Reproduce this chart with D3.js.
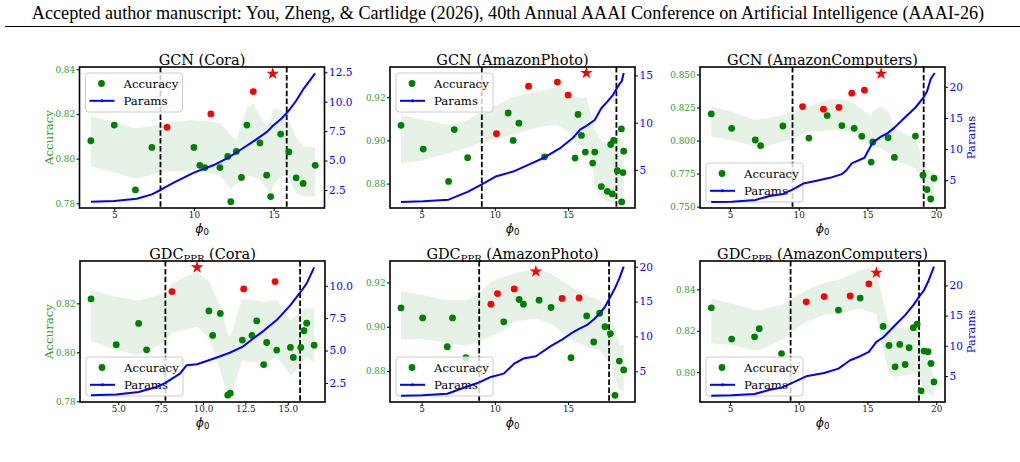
<!DOCTYPE html>
<html>
<head>
<meta charset="utf-8">
<script src="https://cdn.jsdelivr.net/npm/d3@7"></script>
<style>
body { margin: 0; background: #fff; }
svg { display: block; font-family: "DejaVu Serif", serif; }
</style>
</head>
<body>
<div id="chart"></div>
<script>
// ---- GCN (Cora) ----
var gcnCoraAcc = [[3.53,0.808],[5.0,0.815],[6.33,0.786],[7.36,0.805],[10.0,0.805],[10.37,0.797],[10.68,0.796],[11.63,0.796],[12.12,0.801],[12.31,0.7807],[12.66,0.8032],[12.98,0.7916],[13.32,0.815],[14.14,0.807],[14.56,0.7926],[14.81,0.783],[15.44,0.811],[15.95,0.803],[16.41,0.7914],[16.85,0.7889],[17.61,0.797]];
var gcnCoraTop = [[8.31,0.814],[11.06,0.820],[13.72,0.830]];
var gcnCoraBest = [14.94,0.838];
var gcnCoraParams = [[3.53,1.51],[5.0,1.57],[6.41,1.76],[7.36,2.13],[7.9,2.5],[8.73,3.12],[10.0,3.97],[11.25,4.62],[12.1,5.2],[12.9,5.9],[13.8,6.7],[14.6,7.46],[14.94,7.94],[15.46,8.53],[15.9,9.16],[16.4,10.06],[16.9,11.14],[17.6,12.4]];
var gcnCoraBand = [[3.53,0.7967,0.8191],[6.33,0.7911,0.8135],[7.36,0.7926,0.8146],[7.9,0.7941,0.8158],[10.0,0.7946,0.8173],[11.06,0.7934,0.8165],[11.63,0.7926,0.8158],[12.31,0.7866,0.8106],[12.66,0.7889,0.8083],[12.98,0.7904,0.815],[13.32,0.7926,0.8225],[13.72,0.7919,0.8248],[14.14,0.7904,0.8188],[14.56,0.7866,0.815],[14.81,0.7829,0.8158],[14.94,0.7874,0.8221],[15.44,0.7926,0.8221],[15.95,0.7919,0.8173],[16.41,0.7844,0.8098],[16.85,0.7832,0.8053],[17.61,0.7829,0.805]];
var gcnCoraCuts = [7.9, 15.82];

// ---- GCN (AmazonPhoto) ----
var gcnPhotoAcc = [[3.59,0.907],[5.11,0.896],[6.84,0.881],[7.23,0.905],[8.14,0.892],[10.91,0.9127],[11.25,0.900],[11.64,0.908],[13.39,0.8924],[15.48,0.8918],[15.68,0.912],[15.91,0.9023],[16.18,0.8946],[16.68,0.8895],[16.82,0.8946],[17.27,0.8786],[17.68,0.8764],[17.91,0.8981],[18.02,0.8752],[18.11,0.900],[18.36,0.886],[18.64,0.9053],[18.66,0.8715],[18.75,0.8851],[18.8,0.895]];
var gcnPhotoTop = [[10.11,0.9031],[12.3,0.9251],[14.27,0.927],[15.0,0.921]];
var gcnPhotoBest = [16.25,0.9312];
var gcnPhotoParams = [[3.59,1.6],[5.11,1.67],[6.84,1.84],[8.14,2.66],[9.11,3.47],[10.11,4.33],[11.25,4.82],[12.39,5.6],[13.39,6.31],[14.43,7.27],[15.34,8.4],[15.84,9.29],[16.25,9.65],[16.82,10.28],[17.27,11.52],[17.68,12.23],[18.07,12.94],[18.3,13.55],[18.52,14.11],[18.66,14.36],[18.8,15.25]];
var gcnPhotoBand = [[3.59,0.8893,0.9118],[5.11,0.8909,0.9095],[6.84,0.894,0.9071],[8.14,0.8967,0.9095],[9.11,0.8994,0.9133],[10.11,0.9009,0.9164],[11.25,0.9025,0.92],[12.3,0.9048,0.9219],[13.39,0.9067,0.9234],[14.27,0.9071,0.9247],[15.0,0.904,0.9222],[15.48,0.8994,0.9203],[15.91,0.8974,0.9195],[16.25,0.8971,0.92],[16.68,0.8878,0.9095],[16.82,0.8784,0.9048],[17.27,0.8738,0.9002],[17.68,0.8715,0.8978],[18.11,0.8707,0.9009],[18.64,0.8707,0.9002],[18.8,0.8722,0.9009]];
var gcnPhotoCuts = [9.11, 18.3];

// ---- GCN (AmazonComputers) ----
var gcnCompAcc = [[3.64,0.8201],[5.12,0.8092],[6.84,0.8004],[7.23,0.7961],[8.85,0.811],[10.74,0.8019],[12.07,0.8189],[13.14,0.8113],[14.03,0.8092],[14.59,0.8032],[15.27,0.7837],[15.39,0.7989],[16.5,0.8022],[16.96,0.7872],[18.49,0.8034],[19.04,0.7738],[19.33,0.7629],[19.6,0.7558],[19.84,0.7715]];
var gcnCompTop = [[10.28,0.8257],[11.8,0.8237],[12.92,0.825],[13.86,0.8358],[14.78,0.8381]];
var gcnCompBest = [15.99,0.8505];
var gcnCompParams = [[3.64,1.51],[5.12,1.56],[6.84,1.83],[7.9,2.47],[8.85,2.8],[9.55,3.5],[10.33,4.46],[11.3,4.9],[12.26,5.38],[13.14,5.97],[13.47,6.6],[13.86,7.7],[14.78,8.6],[15.39,11.08],[15.99,12.0],[16.5,12.6],[16.96,13.44],[17.59,14.78],[18.49,16.67],[19.04,18.17],[19.33,19.25],[19.6,21.24],[19.89,22.2]];
var gcnCompBand = [[3.64,0.8029,0.8257],[5.12,0.8004,0.8219],[6.84,0.7953,0.8156],[7.23,0.7948,0.8161],[8.85,0.7991,0.8194],[9.55,0.8016,0.8219],[10.74,0.8067,0.8257],[12.07,0.8075,0.8308],[13.14,0.808,0.8313],[14.03,0.8054,0.8282],[14.78,0.8004,0.8219],[15.27,0.7953,0.8194],[15.39,0.7953,0.8219],[15.99,0.7941,0.8262],[16.5,0.7903,0.8219],[16.96,0.7852,0.8092],[18.49,0.7789,0.8016],[19.04,0.7687,0.7852],[19.33,0.7573,0.7789],[19.6,0.7548,0.7776],[19.84,0.7573,0.7763]];
var gcnCompCuts = [9.55, 19.09];

// ---- GDC_PPR (Cora) ----
var gdcCoraAcc = [[3.39,0.8218],[4.88,0.8031],[6.2,0.8118],[6.67,0.801],[10.35,0.8169],[10.57,0.8069],[11.02,0.8159],[11.46,0.7825],[11.61,0.7833],[12.32,0.805],[12.89,0.8069],[13.17,0.8128],[13.58,0.795],[13.76,0.804],[14.35,0.8009],[15.16,0.802],[15.33,0.7979],[15.77,0.802],[15.96,0.8088],[16.12,0.8119],[16.56,0.8029]];
var gdcCoraTop = [[8.17,0.8248],[12.4,0.8259],[14.25,0.8289]];
var gdcCoraBest = [9.65,0.8347];
var gdcCoraParams = [[3.39,1.55],[4.88,1.6],[6.2,1.8],[7.26,2.19],[7.78,2.5],[8.64,3.22],[9.04,3.87],[9.65,3.94],[10.35,4.25],[11.02,4.56],[11.61,4.85],[12.32,5.28],[12.89,5.85],[13.58,6.52],[14.35,7.35],[15.16,8.5],[15.77,9.54],[16.12,10.18],[16.56,11.42]];
var gdcCoraBand = [[3.39,0.8047,0.8255],[4.88,0.8009,0.8227],[6.2,0.7988,0.8211],[6.67,0.8002,0.822],[7.78,0.8043,0.8241],[8.17,0.808,0.8282],[9.65,0.8104,0.833],[10.35,0.8057,0.8289],[11.02,0.7927,0.8186],[11.46,0.7818,0.8077],[11.61,0.7818,0.8063],[12.32,0.7968,0.822],[12.89,0.7961,0.8214],[13.58,0.7954,0.8207],[14.35,0.7982,0.8214],[15.16,0.7906,0.8132],[15.77,0.7941,0.8166],[16.12,0.7982,0.818],[16.56,0.7954,0.8175]];
var gdcCoraCuts = [7.78, 15.73];

// ---- GDC_PPR (AmazonPhoto) ----
var gdcPhotoAcc = [[3.59,0.9085],[5.07,0.904],[6.75,0.891],[7.11,0.904],[8.02,0.886],[10.61,0.9022],[11.66,0.9123],[11.95,0.9102],[13.02,0.912],[13.84,0.9087],[15.2,0.886],[16.27,0.9049],[16.75,0.8931],[17.16,0.9061],[17.52,0.900],[17.89,0.8969],[18.2,0.869],[18.5,0.8845],[18.8,0.8805]];
var gdcPhotoTop = [[9.73,0.9102],[10.18,0.915],[11.32,0.9171],[14.59,0.9128],[15.75,0.913]];
var gdcPhotoBest = [12.8,0.925];
var gdcPhotoParams = [[3.59,1.5],[5.07,1.55],[6.75,1.79],[8.02,2.75],[8.93,3.42],[9.73,4.19],[10.61,4.67],[11.32,6.1],[11.95,6.82],[12.8,7.16],[13.84,8.64],[14.59,9.55],[15.2,10.42],[15.75,11.09],[16.27,11.61],[16.75,12.43],[17.16,13.29],[17.52,14.25],[17.89,15.69],[18.2,16.89],[18.5,18.32],[18.8,20.0]];
var gdcPhotoBand = [[3.59,0.8942,0.9162],[5.07,0.8946,0.9143],[6.75,0.8924,0.912],[8.02,0.8916,0.912],[8.93,0.8931,0.915],[9.73,0.8957,0.9203],[10.61,0.8984,0.9226],[11.32,0.9022,0.9241],[12.8,0.9037,0.9263],[13.84,0.9014,0.9241],[15.2,0.8946,0.918],[16.27,0.8909,0.9143],[17.16,0.8894,0.912],[17.89,0.8833,0.9067],[18.5,0.8712,0.8916],[18.8,0.8712,0.8916]];
var gdcPhotoCuts = [8.93, 17.8];

// ---- GDC_PPR (AmazonComputers) ----
var gdcCompAcc = [[3.64,0.8311],[5.12,0.816],[6.79,0.8171],[7.13,0.821],[8.75,0.809],[12.89,0.83],[14.47,0.8358],[16.14,0.8221],[16.57,0.8129],[17.01,0.8026],[17.35,0.8134],[17.74,0.8037],[18.03,0.8118],[18.34,0.8215],[18.61,0.8232],[18.9,0.791],[19.12,0.8102],[19.41,0.8099],[19.62,0.8042],[19.84,0.7953]];
var gdcCompTop = [[10.54,0.834],[11.85,0.8365],[13.74,0.8368],[15.1,0.8427]];
var gdcCompBest = [15.65,0.848];
var gdcCompParams = [[3.64,1.74],[5.12,1.79],[6.79,2.01],[7.9,2.73],[8.75,3.07],[9.41,3.73],[10.54,4.94],[11.85,5.5],[12.89,6.22],[13.74,7.6],[14.47,8.27],[15.1,8.99],[15.65,10.65],[16.14,11.37],[17.01,13.41],[17.74,15.07],[18.34,16.73],[18.75,18.12],[19.12,19.23],[19.41,20.6],[19.84,23.1]];
var gdcCompBand = [[3.64,0.8139,0.8356],[5.12,0.8131,0.8332],[6.79,0.8106,0.83],[7.13,0.8106,0.83],[8.75,0.8155,0.8324],[10.54,0.8244,0.8397],[11.85,0.8276,0.8432],[12.89,0.8284,0.8445],[14.47,0.8308,0.8494],[15.1,0.8292,0.8502],[15.65,0.8284,0.8477],[16.14,0.8106,0.8348],[16.57,0.7994,0.8227],[17.01,0.7977,0.8219],[17.74,0.7985,0.8211],[18.34,0.7994,0.8211],[18.75,0.7969,0.8203],[19.12,0.7921,0.8106],[19.41,0.7897,0.8058],[19.84,0.7881,0.7977]];
var gdcCompCuts = [9.41, 18.75];

// tick values
var ticksX5 = [5, 10, 15];
var ticksX20 = [5, 10, 15, 20];
var ticksXCora = [5, 7.5, 10, 12.5, 15];
var ticksAccCoraTop = [0.78, 0.80, 0.82, 0.84];
var ticksAccCora = [0.78, 0.80, 0.82];
var ticksAccPhoto = [0.88, 0.90, 0.92];
var ticksAccComp = [0.750, 0.775, 0.800, 0.825, 0.850];
var ticksAccCompGdc = [0.80, 0.82, 0.84];
var ticksParCora = [2.5, 5, 7.5, 10, 12.5];
var ticksParCoraGdc = [2.5, 5, 7.5, 10];
var ticksPar15 = [5, 10, 15];
var ticksPar20 = [5, 10, 15, 20];

var headerText = "Accepted author manuscript: You, Zheng, & Cartlidge (2026), 40th Annual AAAI Conference on Artificial Intelligence (AAAI-26)";

var W = 1020, H = 462;
var tickGreen = "#2ca02c";

var svg = d3.select("#chart").append("svg")
    .attr("width", W)
    .attr("height", H);

// page header
var header = svg.append("text")
    .attr("x", 508).attr("y", 19)
    .attr("text-anchor", "middle")
    .style("font-family", "'Liberation Serif', serif")
    .style("font-size", "17px")
    .text(headerText);
var hw = header.node().getComputedTextLength();
header.style("font-size", (17 * 953 / hw) + "px");

svg.append("line")
    .attr("x1", 5).attr("x2", 1020)
    .attr("y1", 26.5).attr("y2", 26.5)
    .attr("stroke", "#000").attr("stroke-width", 1);

// page number, mostly below the window edge
svg.append("text")
    .attr("x", 987).attr("y", 470)
    .style("font-family", "'Liberation Serif', serif")
    .style("font-size", "11px")
    .text("8");

var panels = [
    {id: 1, left: 79.5, top: 67, title: "GCN", sub: null, name: "(Cora)",
     acc: gcnCoraAcc, top3: gcnCoraTop, best: gcnCoraBest, params: gcnCoraParams, band: gcnCoraBand, cuts: gcnCoraCuts,
     xDomain: [2.82, 18.19], yDomain: [0.7779, 0.8410], rDomain: [0.97, 12.95],
     xTicks: ticksX5, yTicks: ticksAccCoraTop, rTicks: ticksParCora, xFmt: "d", yFmt: ".2f", rFmt: ".1f",
     legend: "tl", accLabel: true, parLabel: false},
    {id: 2, left: 390, top: 67, title: "GCN", sub: null, name: "(AmazonPhoto)",
     acc: gcnPhotoAcc, top3: gcnPhotoTop, best: gcnPhotoBest, params: gcnPhotoParams, band: gcnPhotoBand, cuts: gcnPhotoCuts,
     xDomain: [2.84, 19.57], yDomain: [0.8687, 0.934], rDomain: [0.96, 15.89],
     xTicks: ticksX5, yTicks: ticksAccPhoto, rTicks: ticksPar15, xFmt: "d", yFmt: ".2f", rFmt: "d",
     legend: "tl", accLabel: false, parLabel: false},
    {id: 3, left: 700, top: 67, title: "GCN", sub: null, name: "(AmazonComputers)",
     acc: gcnCompAcc, top3: gcnCompTop, best: gcnCompBest, params: gcnCompParams, band: gcnCompBand, cuts: gcnCompCuts,
     xDomain: [2.82, 20.64], yDomain: [0.749, 0.8556], rDomain: [0.54, 23.17],
     xTicks: ticksX20, yTicks: ticksAccComp, rTicks: ticksPar20, xFmt: "d", yFmt: ".3f", rFmt: "d",
     legend: "bl", accLabel: false, parLabel: true},
    {id: 4, left: 80, top: 261, title: "GDC", sub: "PPR", name: "(Cora)",
     acc: gdcCoraAcc, top3: gdcCoraTop, best: gdcCoraBest, params: gdcCoraParams, band: gdcCoraBand, cuts: gdcCoraCuts,
     xDomain: [2.74, 17.2], yDomain: [0.7797, 0.8373], rDomain: [1.03, 11.91],
     xTicks: ticksXCora, yTicks: ticksAccCora, rTicks: ticksParCoraGdc, xFmt: ".1f", yFmt: ".2f", rFmt: ".1f",
     legend: "bl", accLabel: true, parLabel: false},
    {id: 5, left: 390, top: 261, title: "GDC", sub: "PPR", name: "(AmazonPhoto)",
     acc: gdcPhotoAcc, top3: gdcPhotoTop, best: gdcPhotoBest, params: gdcPhotoParams, band: gdcPhotoBand, cuts: gdcPhotoCuts,
     xDomain: [2.84, 19.57], yDomain: [0.866, 0.9297], rDomain: [0.6, 20.81],
     xTicks: ticksX5, yTicks: ticksAccPhoto, rTicks: ticksPar20, xFmt: "d", yFmt: ".2f", rFmt: "d",
     legend: "bl", accLabel: false, parLabel: false},
    {id: 6, left: 700, top: 261, title: "GDC", sub: "PPR", name: "(AmazonComputers)",
     acc: gdcCompAcc, top3: gdcCompTop, best: gdcCompBest, params: gdcCompParams, band: gdcCompBand, cuts: gdcCompCuts,
     xDomain: [2.82, 20.64], yDomain: [0.7856, 0.8537], rDomain: [0.69, 24.04],
     xTicks: ticksX20, yTicks: ticksAccCompGdc, rTicks: ticksPar20, xFmt: "d", yFmt: ".2f", rFmt: "d",
     legend: "bl", accLabel: false, parLabel: true}
];

var pw = 245, ph = 141;

panels.forEach(drawPanel);

function drawPanel(p) {
    var g = svg.append("g")
        .attr("transform", "translate(" + p.left + "," + p.top + ")");

    var x = d3.scaleLinear().domain(p.xDomain).range([0, pw]);
    var y = d3.scaleLinear().domain(p.yDomain).range([ph, 0]);
    var yr = d3.scaleLinear().domain(p.rDomain).range([ph, 0]);

    // title
    var t = g.append("text")
        .attr("x", pw / 2).attr("y", -2.5)
        .attr("text-anchor", "middle")
        .style("font-size", "14.5px");
    t.append("tspan").text(p.title);
    if (p.sub) {
        t.append("tspan").attr("dy", 3.5).style("font-size", "10px").text(p.sub);
        t.append("tspan").attr("dy", -3.5).text(" " + p.name);
    } else {
        t.append("tspan").text(" " + p.name);
    }

    var clipId = "clip" + p.id;
    g.append("clipPath").attr("id", clipId)
        .append("rect").attr("width", pw).attr("height", ph);
    var plot = g.append("g").attr("clip-path", "url(#" + clipId + ")");

    // std band
    plot.append("path").datum(p.band)
        .attr("fill", "green").attr("fill-opacity", 0.1)
        .attr("d", d3.area()
            .x(function(d) { return x(d[0]); })
            .y0(function(d) { return y(d[1]); })
            .y1(function(d) { return y(d[2]); }));

    // cut lines
    plot.selectAll(".cut").data(p.cuts).enter().append("line")
        .attr("class", "cut")
        .attr("x1", function(d) { return x(d); })
        .attr("x2", function(d) { return x(d); })
        .attr("y1", 0).attr("y2", ph)
        .attr("stroke", "#000").attr("stroke-width", 1.8)
        .attr("stroke-dasharray", "5.5,2.4");

    // accuracy points
    plot.selectAll(".acc").data(p.acc).enter().append("circle")
        .attr("class", "acc")
        .attr("cx", function(d) { return x(d[0]); })
        .attr("cy", function(d) { return y(d[1]); })
        .attr("r", 3.4)
        .attr("fill", "green");

    plot.selectAll(".top").data(p.top3).enter().append("circle")
        .attr("class", "top")
        .attr("cx", function(d) { return x(d[0]); })
        .attr("cy", function(d) { return y(d[1]); })
        .attr("r", 3.4)
        .attr("fill", "red");

    plot.append("path")
        .attr("d", d3.symbol().type(d3.symbolStar).size(48)())
        .attr("transform", "translate(" + x(p.best[0]) + "," + y(p.best[1]) + ")")
        .attr("fill", "red");

    // legend (belongs to the accuracy axes)
    var lw = 97, lh = 39;
    var lx = 6, ly = p.legend === "tl" ? 6 : ph - 6 - lh;
    var lg = g.append("g").attr("transform", "translate(" + lx + "," + ly + ")");
    lg.append("rect")
        .attr("width", lw).attr("height", lh)
        .attr("rx", 3)
        .attr("fill", "#fff").attr("fill-opacity", 0.8)
        .attr("stroke", "#ccc").attr("stroke-width", 1);
    lg.append("circle").attr("cx", 16).attr("cy", 10.5).attr("r", 3.4).attr("fill", "green");
    lg.append("text").attr("x", 38).attr("y", 14.8).style("font-size", "11.7px").text("Accuracy");
    lg.append("line").attr("x1", 4).attr("x2", 29).attr("y1", 27.8).attr("y2", 27.8)
        .attr("stroke", "blue").attr("stroke-width", 2);
    lg.append("circle").attr("cx", 16.5).attr("cy", 27.8).attr("r", 1.5).attr("fill", "blue");
    lg.append("text").attr("x", 38).attr("y", 32).style("font-size", "11.7px").text("Params");

    // params line (twin axes, drawn on top)
    var plot2 = g.append("g").attr("clip-path", "url(#" + clipId + ")");
    plot2.append("path").datum(p.params)
        .attr("fill", "none")
        .attr("stroke", "blue").attr("stroke-width", 2)
        .attr("stroke-linejoin", "round")
        .attr("d", d3.line()
            .x(function(d) { return x(d[0]); })
            .y(function(d) { return yr(d[1]); }));

    // axes
    var xAxis = g.append("g")
        .attr("transform", "translate(0," + ph + ")")
        .call(d3.axisBottom(x).tickValues(p.xTicks).tickFormat(d3.format(p.xFmt))
            .tickSize(3).tickPadding(1));
    xAxis.select(".domain").remove();
    xAxis.attr("font-family", null).attr("font-size", null);
    xAxis.selectAll("text").style("font-size", "8.8px").attr("fill", "#222");

    var yAxis = g.append("g")
        .call(d3.axisLeft(y).tickValues(p.yTicks).tickFormat(d3.format(p.yFmt))
            .tickSize(3).tickPadding(1.5));
    yAxis.select(".domain").remove();
    yAxis.attr("font-family", null).attr("font-size", null);
    yAxis.selectAll("text").style("font-size", "8.8px").attr("fill", tickGreen);

    var rAxis = g.append("g")
        .attr("transform", "translate(" + pw + ",0)")
        .call(d3.axisRight(yr).tickValues(p.rTicks).tickFormat(d3.format(p.rFmt))
            .tickSize(3).tickPadding(1.5));
    rAxis.select(".domain").remove();
    rAxis.attr("font-family", null).attr("font-size", null);
    rAxis.selectAll("text").style("font-size", "10.5px").attr("fill", "blue");

    // frame
    g.append("rect")
        .attr("width", pw).attr("height", ph)
        .attr("fill", "none")
        .attr("stroke", "#000").attr("stroke-width", 1.6);

    // axis labels
    var xl = g.append("text")
        .attr("x", pw / 2).attr("y", ph + 24.5)
        .attr("text-anchor", "middle")
        .style("font-family", "'DejaVu Sans', sans-serif")
        .style("font-size", "12.5px");
    xl.append("tspan").style("font-style", "italic").text("\u03D5");
    xl.append("tspan").attr("dy", 2.5).style("font-size", "8.5px").text("0");

    if (p.accLabel) {
        g.append("text")
            .attr("transform", "translate(" + (-27) + "," + (ph / 2) + ") rotate(-90)")
            .attr("text-anchor", "middle")
            .style("font-size", "11.7px")
            .attr("fill", tickGreen)
            .text("Accuracy");
    }
    if (p.parLabel) {
        g.append("text")
            .attr("transform", "translate(" + (pw + 30) + "," + (ph / 2) + ") rotate(-90)")
            .attr("text-anchor", "middle")
            .style("font-size", "11.5px")
            .attr("fill", "blue")
            .text("Params");
    }
}
</script>
</body>
</html>
